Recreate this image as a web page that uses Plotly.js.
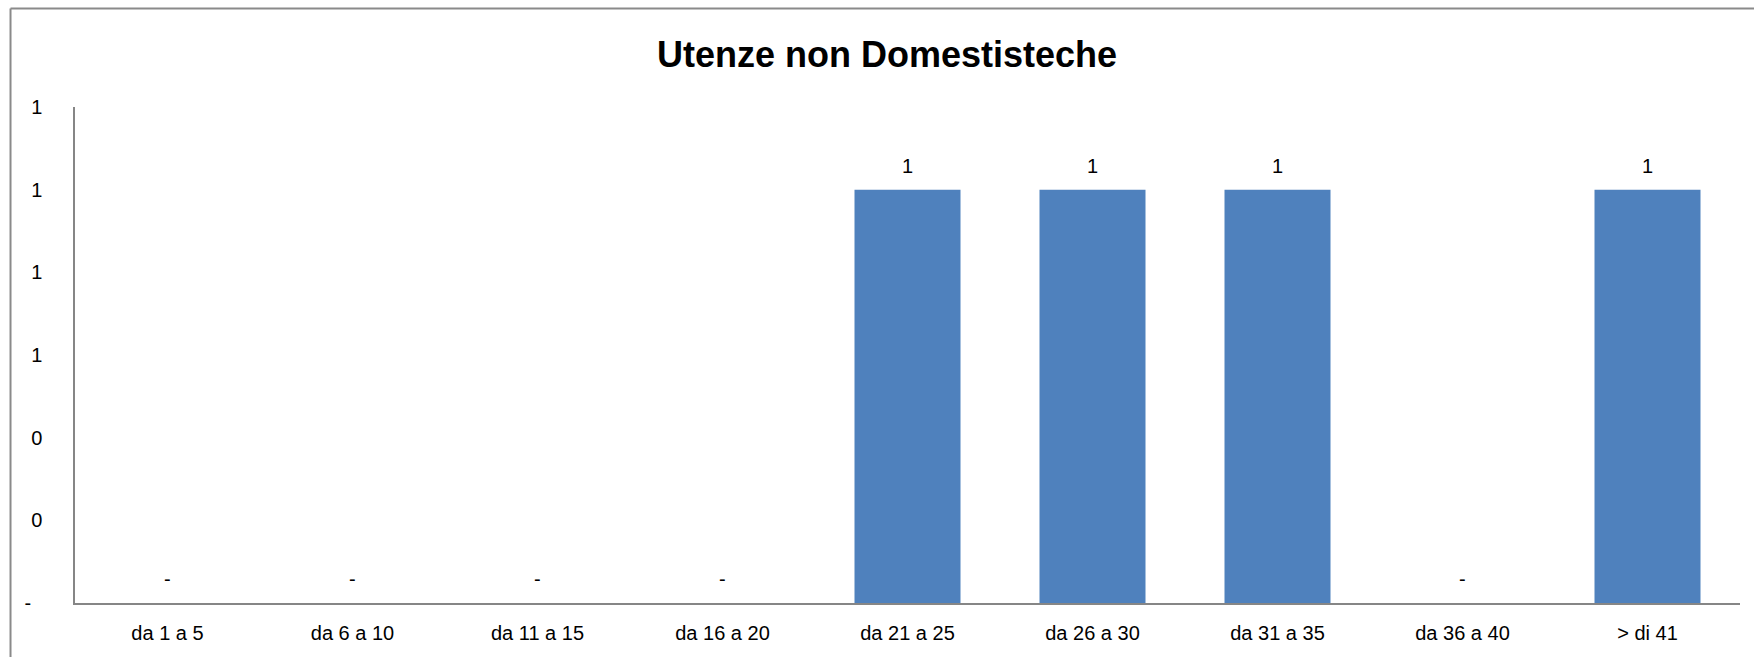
<!DOCTYPE html>
<html>
<head>
<meta charset="utf-8">
<script src="https://cdn.plot.ly/plotly-3.0.1.min.js"></script>
<style>
  html, body { margin: 0; padding: 0; background: #fff; }
  #chart { width: 1754px; height: 657px; }
</style>
</head>
<body>
<div id="chart"></div>
<script>
const categories = ["da 1 a 5", "da 6 a 10", "da 11 a 15", "da 16 a 20", "da 21 a 25", "da 26 a 30", "da 31 a 35", "da 36 a 40", "> di 41"];
const values = [0, 0, 0, 0, 1, 1, 1, 0, 1];
const yTickVals = [0, 0.2, 0.4, 0.6, 0.8, 1.0, 1.2];
const yTickText = ["-\u00a0\u00a0", "0", "0", "1", "1", "1", "1"];
const chartTitle = "Utenze non Domestisteche";

const FONT = "Liberation Sans, Arial, sans-serif";
const labelFont = { family: FONT, size: 20, color: "#000" };

const annotations = categories.map((c, i) => ({
  x: c, y: values[i], xref: "x", yref: "y",
  text: values[i] === 0 ? "-" : String(values[i]),
  showarrow: false, yanchor: "middle", yshift: 24,
  font: labelFont
}));

const trace = {
  type: "bar",
  x: categories,
  y: values,
  marker: { color: "#4F81BD", line: { width: 0 } },
  hoverinfo: "x+y"
};

const layout = {
  width: 1754, height: 657,
  margin: { l: 74.5, r: 14, t: 107.4, b: 54, pad: 0 },
  paper_bgcolor: "#fff", plot_bgcolor: "#fff",
  showlegend: false,
  bargap: 0.427,
  title: {
    text: "<b>" + chartTitle + "</b>",
    font: { family: FONT, size: 36, color: "#000" },
    x: 887 / 1754, xref: "container", xanchor: "center",
    y: 1 - 54 / 657, yref: "container", yanchor: "middle"
  },
  xaxis: {
    type: "category",
    range: [-0.5, 8.5],
    showline: true, linecolor: "#868686", linewidth: 1.5,
    showgrid: false, zeroline: false,
    ticks: "", ticklabelstandoff: 11,
    tickfont: labelFont,
    fixedrange: true
  },
  yaxis: {
    range: [0, 1.2],
    tickmode: "array", tickvals: yTickVals, ticktext: yTickText,
    showline: true, linecolor: "#868686", linewidth: 1.5,
    showgrid: false, zeroline: false,
    ticks: "", ticklabelstandoff: 27,
    tickfont: labelFont,
    fixedrange: true
  },
  annotations: annotations,
  shapes: [
    { type: "line", xref: "paper", yref: "paper",
      x0: (10 - 74.5) / 1665.5, x1: 1.2, y0: (603 - 9) / 495.6, y1: (603 - 9) / 495.6,
      line: { color: "#8a8a8a", width: 2 } },
    { type: "line", xref: "paper", yref: "paper",
      x0: (10 - 74.5) / 1665.5, x1: (10 - 74.5) / 1665.5, y0: -0.2, y1: (603 - 9) / 495.6,
      line: { color: "#8a8a8a", width: 2 } }
  ]
};

Plotly.newPlot("chart", [trace], layout, { displayModeBar: false });
</script>
</body>
</html>
